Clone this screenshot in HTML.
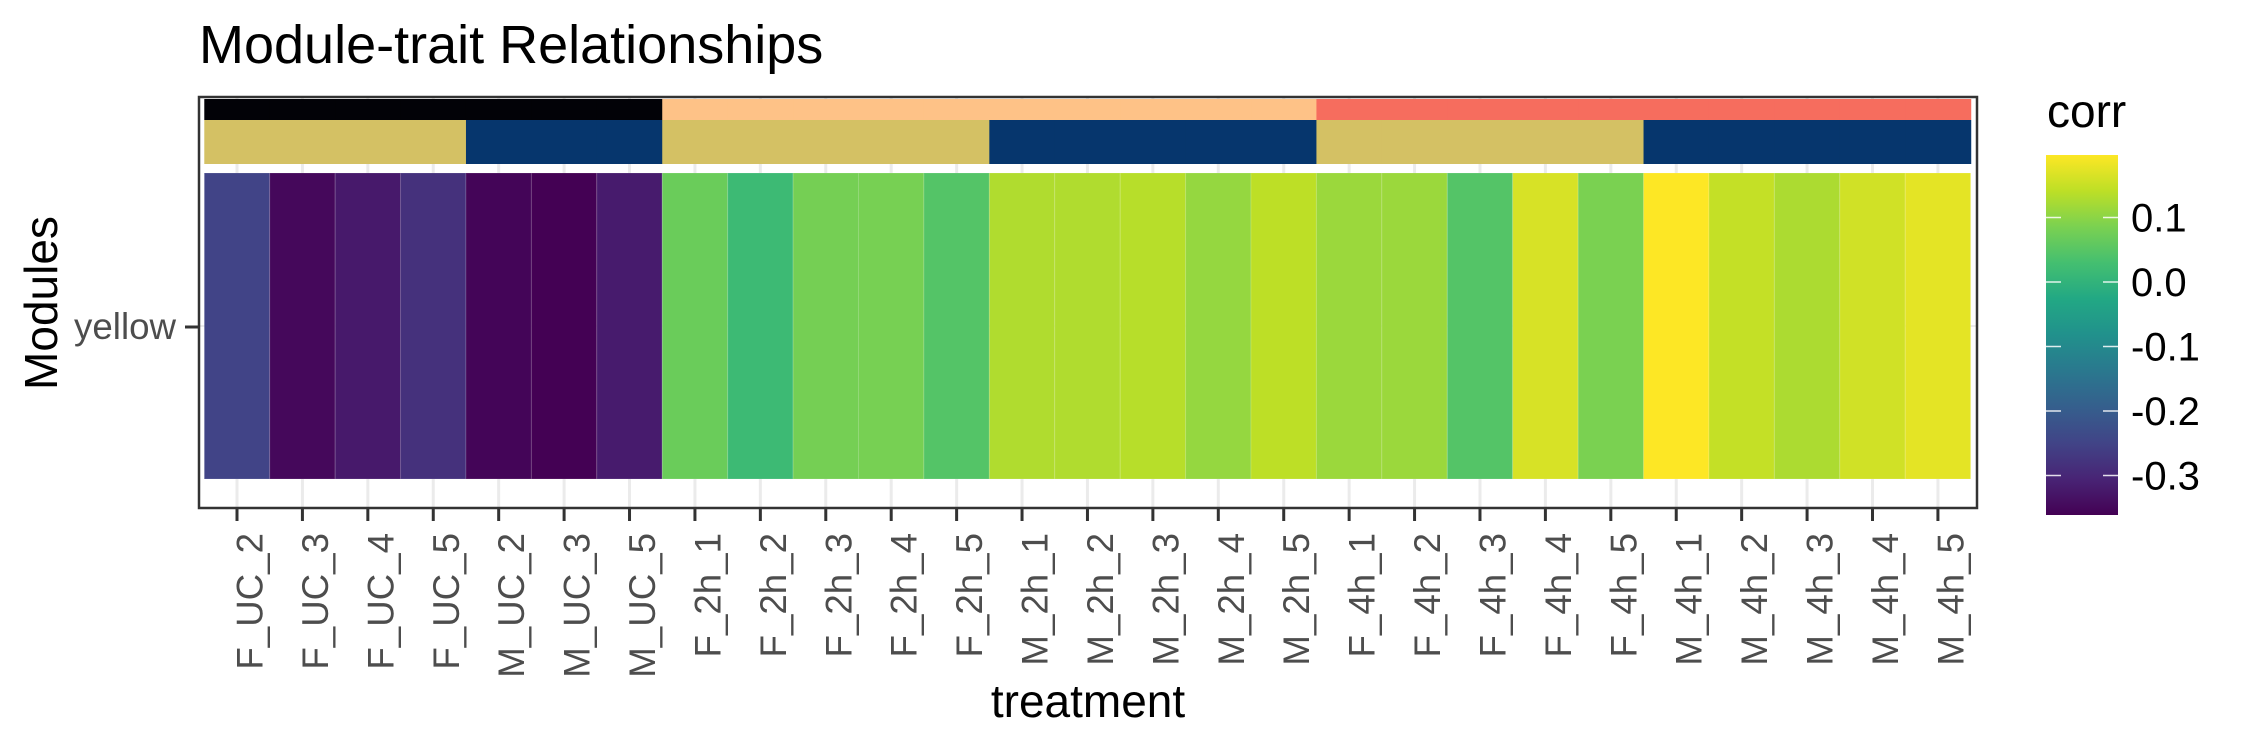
<!DOCTYPE html>
<html><head><meta charset="utf-8"><style>
html,body{margin:0;padding:0;background:#fff;}
svg{display:block;font-family:"Liberation Sans",Arial,sans-serif;}
</style></head><body>
<svg id="chart" width="2250" height="750" viewBox="0 0 2250 750">
<defs>
<linearGradient id="vgrad" x1="0" y1="1" x2="0" y2="0">
<stop offset="0" stop-color="#440154"/><stop offset="0.1" stop-color="#482475"/><stop offset="0.2" stop-color="#414487"/><stop offset="0.3" stop-color="#355f8d"/><stop offset="0.4" stop-color="#2a788e"/><stop offset="0.5" stop-color="#21918c"/><stop offset="0.6" stop-color="#22a884"/><stop offset="0.7" stop-color="#44bf70"/><stop offset="0.8" stop-color="#7ad151"/><stop offset="0.9" stop-color="#bddf26"/><stop offset="1" stop-color="#fde725"/>
</linearGradient>
</defs>
<text x="199" y="63" font-size="54" fill="#000">Module-trait Relationships</text>
<g id="grid"></g>
<g id="tiles"></g>
<g id="annot"></g>
<rect x="199" y="97" width="1778" height="411" fill="none" stroke="#333" stroke-width="2.5"/>
<g id="xaxis"></g>
<line x1="185" y1="327" x2="198" y2="327" stroke="#333" stroke-width="3"/>
<text x="176" y="339" font-size="36.7" fill="#4d4d4d" text-anchor="end">yellow</text>
<text transform="translate(57,303) rotate(-90)" font-size="46" text-anchor="middle" fill="#000">Modules</text>
<text x="1088" y="717" font-size="46" text-anchor="middle" fill="#000">treatment</text>
<g id="legend">
<text x="2047" y="127" font-size="46" fill="#000">corr</text>
<rect x="2046" y="155" width="72" height="360" fill="url(#vgrad)"/>
</g>
</svg>
<script>
const categories=["F_UC_2","F_UC_3","F_UC_4","F_UC_5","M_UC_2","M_UC_3","M_UC_5","F_2h_1","F_2h_2","F_2h_3","F_2h_4","F_2h_5","M_2h_1","M_2h_2","M_2h_3","M_2h_4","M_2h_5","F_4h_1","F_4h_2","F_4h_3","F_4h_4","F_4h_5","M_4h_1","M_4h_2","M_4h_3","M_4h_4","M_4h_5"];
const corrValues=[-0.248,-0.349,-0.321,-0.282,-0.354,-0.360,-0.318,0.070,0.019,0.081,0.083,0.047,0.131,0.131,0.137,0.109,0.142,0.114,0.114,0.047,0.165,0.086,0.198,0.148,0.128,0.159,0.176];
const timeGroups=["UC","UC","UC","UC","UC","UC","UC","2h","2h","2h","2h","2h","2h","2h","2h","2h","2h","4h","4h","4h","4h","4h","4h","4h","4h","4h","4h"];
const sexGroups=["F","F","F","F","M","M","M","F","F","F","F","F","M","M","M","M","M","F","F","F","F","F","M","M","M","M","M"];
const legendTicks=[0.1,0.0,-0.1,-0.2,-0.3];
const legendTickLabels=["0.1","0.0","-0.1","-0.2","-0.3"];
const vmin=-0.360, vmax=0.198;

const NS="http://www.w3.org/2000/svg";
const stops=["#440154","#482475","#414487","#355f8d","#2a788e","#21918c","#22a884","#44bf70","#7ad151","#bddf26","#fde725"];
const timeColor={"UC":"#020207","2h":"#fec287","4h":"#f66d5e"};
const sexColor={"F":"#d4c164","M":"#06366d"};
function hex(h){return [1,3,5].map(i=>parseInt(h.substr(i,2),16));}
function viridis(v){let t=(v-vmin)/(vmax-vmin);t=Math.max(0,Math.min(1,t));const p=t*10,i=Math.min(9,Math.floor(p)),f=p-i;const a=hex(stops[i]),b=hex(stops[i+1]);return "rgb("+a.map((c,k)=>Math.round(c+(b[k]-c)*f)).join(",")+")";}
const x0=237, step=65.42;
function xCenter(i){return x0+i*step;}
function yLegend(v){return 282-v*645;}
function mk(tag,attrs,parent){const e=document.createElementNS(NS,tag);for(const k in attrs)e.setAttribute(k,attrs[k]);parent.appendChild(e);return e;}
const grid=document.getElementById('grid'),tiles=document.getElementById('tiles'),annot=document.getElementById('annot'),xaxis=document.getElementById('xaxis'),legend=document.getElementById('legend');
mk('line',{x1:199,y1:326,x2:1977,y2:326,stroke:"#ebebeb","stroke-width":2},grid);
categories.forEach((c,i)=>{
  const cx=xCenter(i);
  const g=mk('line',{x1:cx,y1:97,x2:cx,y2:508,stroke:"#ebebeb","stroke-width":3},grid);
  
  
  const r=mk('rect',{x:cx-step/2,y:173,width:step,height:306,fill:viridis(corrValues[i]),stroke:"rgba(255,255,255,0.15)","stroke-width":1},tiles);
  
  
  const a1=mk('rect',{x:cx-step/2,y:99,width:step+0.6,height:21,fill:timeColor[timeGroups[i]]},annot);
  
  
  const a2=mk('rect',{x:cx-step/2,y:120,width:step+0.6,height:44,fill:sexColor[sexGroups[i]]},annot);
  
  
  const t=mk('line',{x1:cx,y1:509,x2:cx,y2:521,stroke:"#333","stroke-width":3},xaxis);
  
  
  const l=mk('text',{transform:"translate("+(cx+13)+",533) rotate(-90)","font-size":36.7,fill:"#4d4d4d","text-anchor":"end","dominant-baseline":"central"},xaxis);
  l.textContent=c;
  
  
});
legendTicks.forEach((v,i)=>{
  const y=yLegend(v);
  const a=mk('line',{x1:2046,y1:y,x2:2061,y2:y,stroke:"#fff","stroke-width":1.5,"stroke-opacity":0.85},legend);
  
  
  const b=mk('line',{x1:2103,y1:y,x2:2118,y2:y,stroke:"#fff","stroke-width":1.5,"stroke-opacity":0.85},legend);
  
  
  const t=mk('text',{x:2131,y:y+14,"font-size":40,fill:"#000"},legend);
  t.textContent=legendTickLabels[i];
  
  
});
</script>
</body></html>
